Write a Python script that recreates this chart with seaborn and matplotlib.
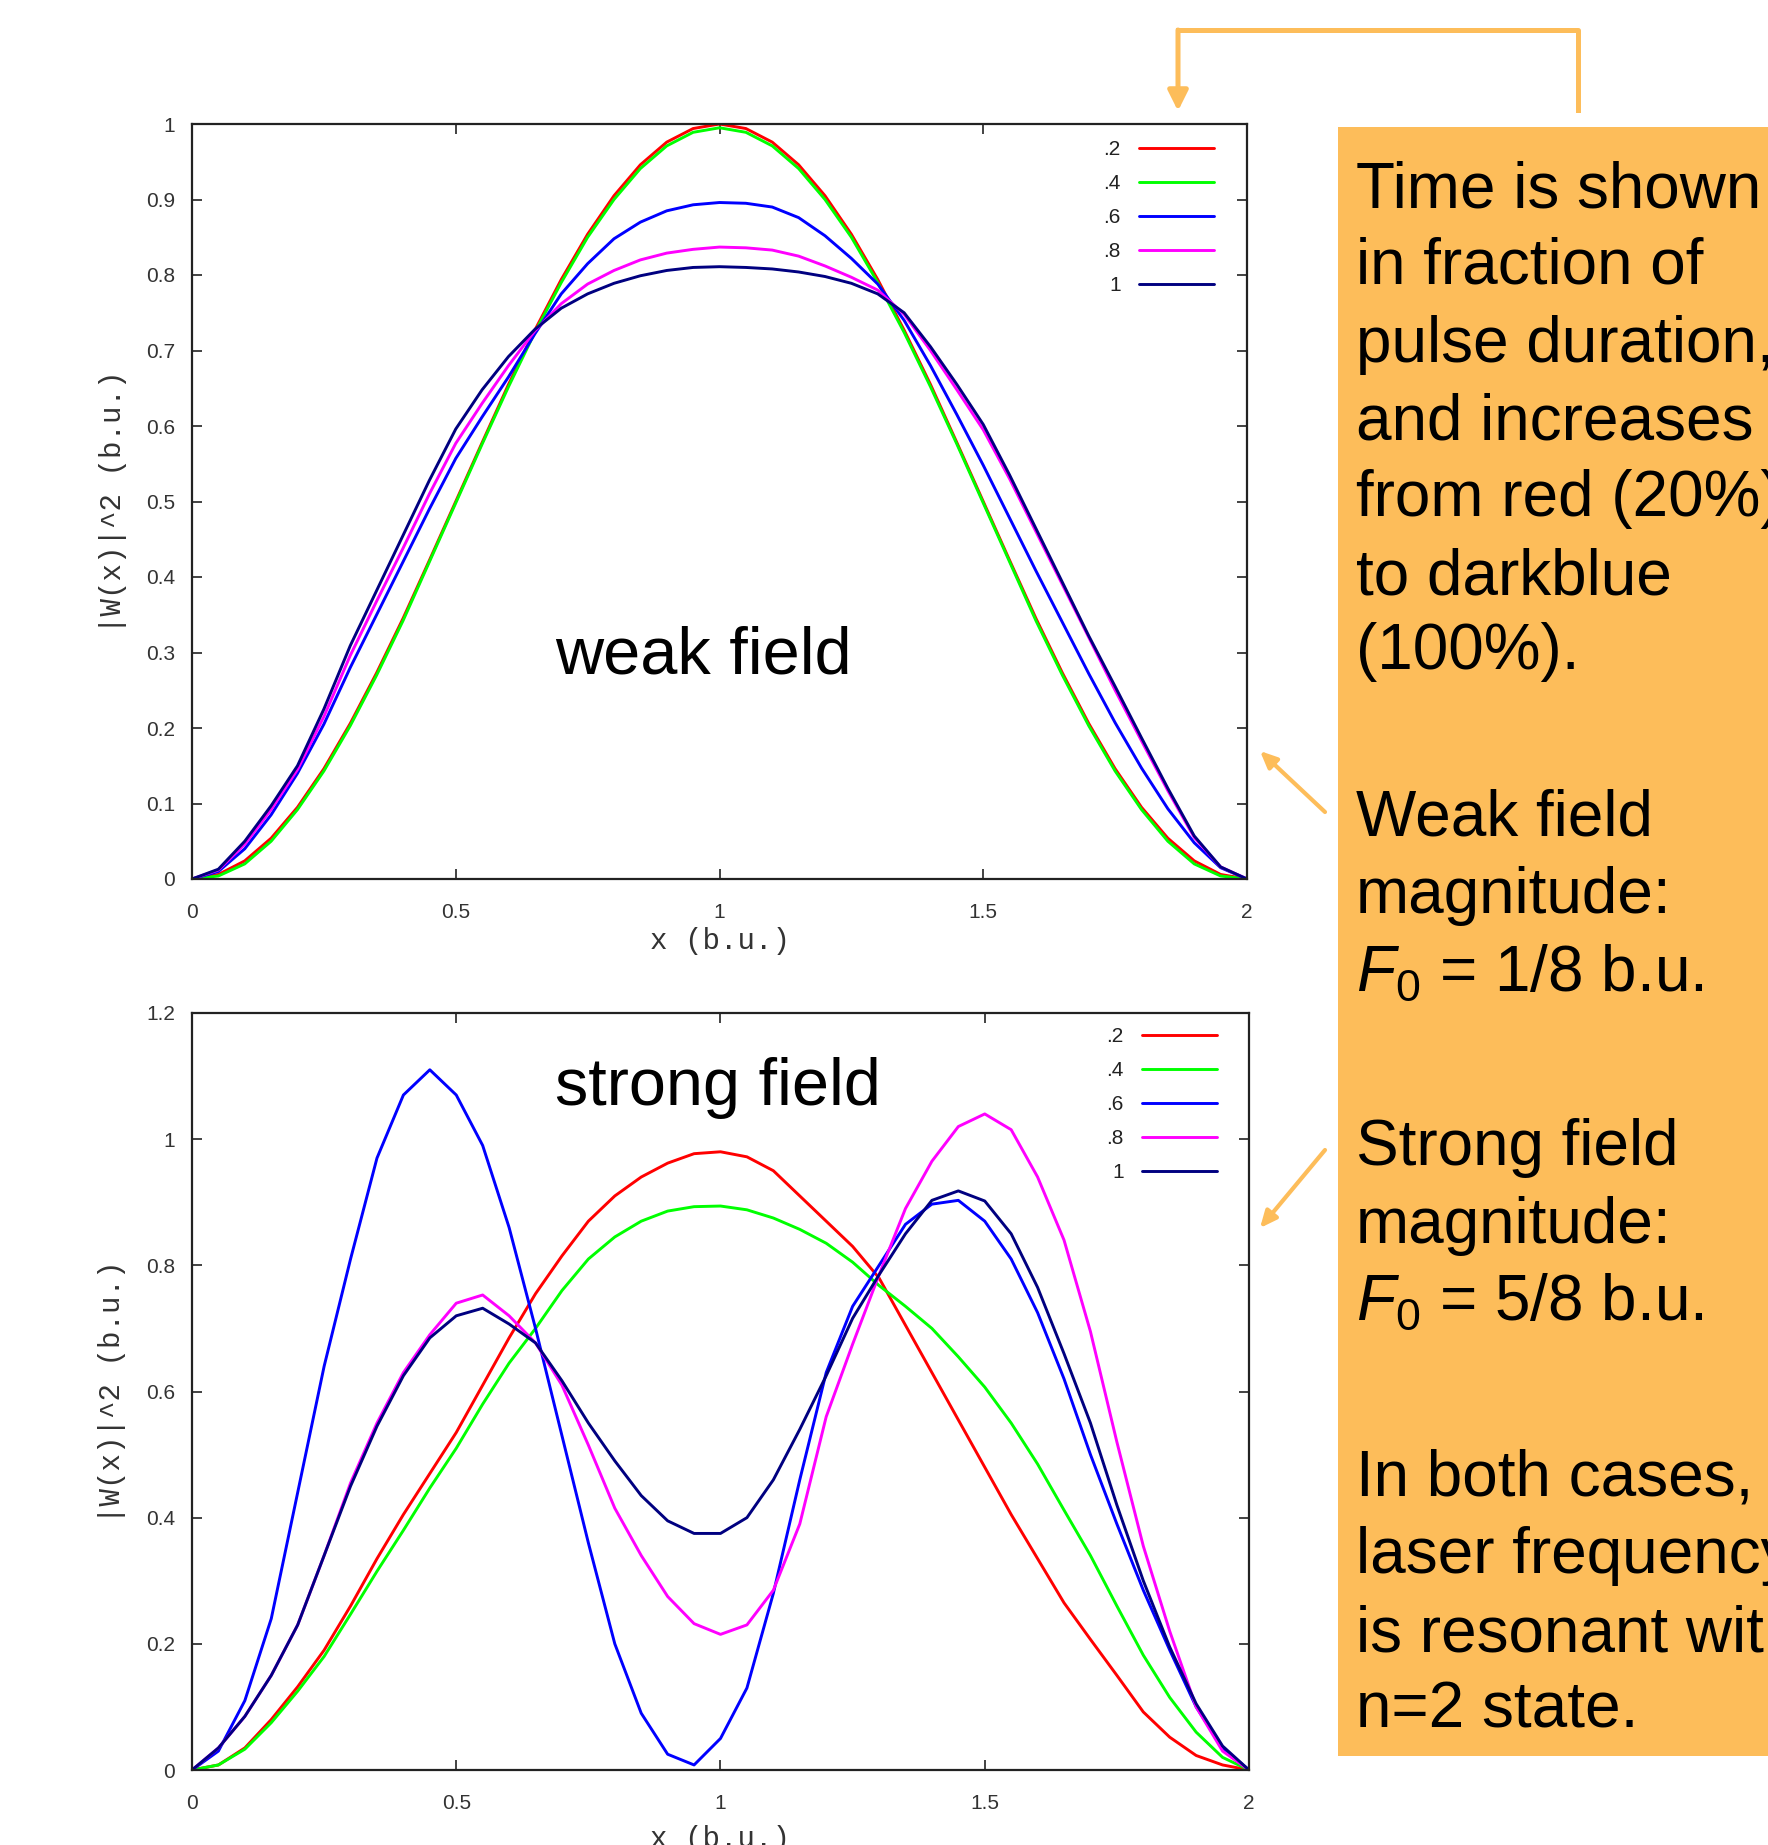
import numpy as np
import pandas as pd
import seaborn as sns
import matplotlib
matplotlib.use("Agg")
import matplotlib.pyplot as plt
from matplotlib.patches import Rectangle, FancyArrowPatch
from matplotlib.lines import Line2D
from matplotlib import font_manager

# ---------------- data ----------------
x = [0, .05, .1, .15, .2, .25, .3, .35, .4, .45, .5, .55, .6, .65, .7, .75, .8, .85, .9, .95, 1.0,
     1.05, 1.1, 1.15, 1.2, 1.25, 1.3, 1.35, 1.4, 1.45, 1.5, 1.55, 1.6, 1.65, 1.7, 1.75, 1.8, 1.85, 1.9, 1.95, 2.0]

time_labels = [".2", ".4", ".6", ".8", "1"]
line_colors = ["#ff0000", "#00ff00", "#0000ff", "#ff00ff", "#000080"]

# weak field (F0 = 1/8 b.u.)
weak_t02 = [0, .006, .024, .054, .095, .146, .206, .273, .345, .422, .5, .578, .655, .727, .794, .854, .905, .946, .976, .994, 1.0,
            .994, .976, .946, .905, .854, .794, .727, .655, .578, .5, .422, .345, .273, .206, .146, .095, .054, .024, .006, 0]
weak_t04 = [0, .004, .02, .05, .092, .143, .203, .27, .342, .42, .498, .576, .652, .724, .79, .85, .90, .941, .971, .989, .995,
            .989, .971, .941, .90, .85, .79, .724, .652, .576, .498, .42, .342, .27, .203, .143, .092, .05, .02, .004, 0]
weak_t06 = [0, .01, .04, .085, .14, .205, .28, .35, .42, .49, .557, .612, .665, .722, .775, .815, .848, .87, .885, .893, .896,
            .895, .89, .876, .852, .822, .788, .74, .68, .615, .548, .478, .408, .34, .272, .207, .147, .093, .048, .015, 0]
weak_t08 = [0, .012, .046, .092, .145, .215, .296, .368, .438, .51, .577, .63, .68, .726, .762, .788, .806, .82, .829, .834, .837,
            .836, .833, .825, .812, .797, .78, .748, .70, .648, .595, .53, .46, .39, .32, .25, .183, .117, .055, .016, 0]
weak_t10 = [0, .013, .05, .097, .15, .225, .309, .382, .455, .528, .596, .648, .692, .728, .756, .775, .789, .799, .806, .81, .811,
            .81, .808, .804, .798, .789, .775, .75, .705, .655, .602, .535, .464, .393, .322, .255, .187, .12, .057, .016, 0]

# strong field (F0 = 5/8 b.u.)
strong_t02 = [0, .008, .035, .08, .132, .19, .26, .335, .405, .47, .535, .61, .685, .755, .815, .87, .91, .94, .962, .977, .98,
              .972, .95, .91, .87, .83, .78, .705, .63, .555, .48, .405, .335, .265, .207, .15, .092, .052, .023, .008, 0]
strong_t04 = [0, .008, .033, .075, .125, .18, .247, .315, .38, .447, .51, .58, .645, .70, .76, .81, .845, .87, .886, .893, .894,
              .888, .875, .857, .835, .805, .768, .735, .70, .655, .607, .55, .485, .412, .34, .26, .182, .115, .06, .02, 0]
strong_t06 = [0, .03, .11, .24, .44, .64, .81, .97, 1.07, 1.11, 1.07, .99, .86, .70, .53, .36, .20, .09, .025, .008, .05,
              .13, .28, .46, .63, .735, .80, .865, .897, .903, .87, .81, .725, .62, .50, .39, .285, .19, .10, .035, 0]
strong_t08 = [0, .035, .085, .15, .23, .34, .455, .55, .63, .69, .74, .753, .72, .677, .61, .515, .415, .34, .275, .232, .215,
              .23, .285, .39, .56, .675, .785, .89, .965, 1.02, 1.04, 1.015, .94, .84, .695, .52, .355, .22, .10, .03, 0]
strong_t10 = [0, .035, .085, .15, .23, .34, .45, .545, .625, .685, .72, .732, .707, .677, .617, .55, .49, .435, .395, .375, .375,
              .40, .46, .54, .625, .716, .785, .85, .903, .918, .902, .85, .765, .66, .55, .42, .30, .195, .105, .038, 0]

x_ticks = [0, 0.5, 1, 1.5, 2]
x_ticklabels = ["0", "0.5", "1", "1.5", "2"]
weak_yticks = [0, .1, .2, .3, .4, .5, .6, .7, .8, .9, 1]
weak_yticklabels = ["0", "0.1", "0.2", "0.3", "0.4", "0.5", "0.6", "0.7", "0.8", "0.9", "1"]
strong_yticks = [0, .2, .4, .6, .8, 1, 1.2]
strong_yticklabels = ["0", "0.2", "0.4", "0.6", "0.8", "1", "1.2"]

box_lines_1 = ["Time is shown", "in fraction of", "pulse duration,", "and increases",
               "from red (20%)", "to darkblue", "(100%)."]
box_lines_2 = ["Weak field", "magnitude:", r"$\mathit{F}_{\mathrm{0}}$ = 1/8 b.u."]
box_lines_3 = ["Strong field", "magnitude:", r"$\mathit{F}_{\mathrm{0}}$ = 5/8 b.u."]
box_lines_4 = ["In both cases,", "laser frequency", "is resonant with", "n=2 state."]

# ---------------- style ----------------
sns.set_style("ticks")
plt.rcParams["font.family"] = ["Liberation Sans", "DejaVu Sans"]
plt.rcParams["text.color"] = "black"
plt.rcParams["mathtext.fontset"] = "custom"
plt.rcParams["mathtext.rm"] = "Liberation Sans"
plt.rcParams["mathtext.it"] = "Liberation Sans:italic"

installed = {f.name for f in font_manager.fontManager.ttflist}
tick_font = "Liberation Sans Narrow" if "Liberation Sans Narrow" in installed else "Liberation Sans"
mono_font = "Liberation Mono" if "Liberation Mono" in installed else "DejaVu Sans Mono"

ORANGE = "#FDBD5A"
W, H = 1768, 1845
fig = plt.figure(figsize=(W / 100, H / 100), dpi=100)


def F(px, py):
    return (px / W, 1 - py / H)


ax1 = fig.add_axes([192 / W, 1 - 879 / H, 1055 / W, 755 / H])
ax2 = fig.add_axes([192 / W, 1 - 1770 / H, 1057 / W, 757 / H])


def draw(ax, series, yticks, yticklabels, ylim, leg_anchor, xlabel_y):
    df = pd.concat([pd.DataFrame({"x": x, "y": s, "t": lab}) for lab, s in zip(time_labels, series)],
                   ignore_index=True)
    sns.lineplot(data=df, x="x", y="y", hue="t", hue_order=time_labels,
                 palette=dict(zip(time_labels, line_colors)), estimator=None, sort=False,
                 lw=2.1, ax=ax, legend=True)
    ax.set_xlim(0, 2)
    ax.set_ylim(*ylim)
    ax.set_xticks(x_ticks)
    ax.set_xticklabels(x_ticklabels, family=tick_font)
    ax.set_yticks(yticks)
    ax.set_yticklabels(yticklabels, family=tick_font)
    ax.tick_params(axis="both", direction="in", top=True, right=True, length=7, width=1.2,
                   labelsize=15, labelcolor="#333333", color="#222222")
    ax.tick_params(axis="x", pad=17)
    ax.tick_params(axis="y", pad=12)
    for sp in ax.spines.values():
        sp.set_linewidth(1.6)
        sp.set_color("#222222")
    ax.set_xlabel("x (b.u.)", family=mono_font, fontsize=21, color="#333333")
    ax.set_ylabel("|W(x)|^2 (b.u.)", family=mono_font, fontsize=21, color="#333333")
    ax.xaxis.set_label_coords(0.5, xlabel_y)
    ax.yaxis.set_label_coords(-0.062, 0.5)
    handles, labels = ax.get_legend_handles_labels()
    ax.legend(handles, labels, loc="upper right", bbox_to_anchor=leg_anchor, frameon=False,
              markerfirst=False, handlelength=3.6, handletextpad=0.9, labelspacing=0.72,
              prop={"family": tick_font, "size": 15}, borderaxespad=0, borderpad=0,
              labelcolor="#222222")


draw(ax1, [weak_t02, weak_t04, weak_t06, weak_t08, weak_t10], weak_yticks, weak_yticklabels,
     (0, 1), (0.969, 0.979), -0.064)
draw(ax2, [strong_t02, strong_t04, strong_t06, strong_t08, strong_t10], strong_yticks, strong_yticklabels,
     (0, 1.2), (0.970, 0.981), -0.072)

# in-plot titles
fig.text(*F(703, 673), "weak field", fontsize=48, ha="center", va="baseline", color="black")
fig.text(*F(718, 1105), "strong field", fontsize=48, ha="center", va="baseline", color="black")

# orange explanation box
fig.add_artist(Rectangle(F(1338, 1756), (W - 1338) / W + 0.02, (1756 - 127) / H,
                         transform=fig.transFigure, facecolor=ORANGE, edgecolor="none", zorder=0))

paragraphs = [(box_lines_1, [185, 261, 339, 416, 493, 571, 646]),
              (box_lines_2, [813, 890, 968]),
              (box_lines_3, [1142, 1220, 1297]),
              (box_lines_4, [1473, 1550, 1628, 1704])]
for lines, centers in paragraphs:
    for line, cy in zip(lines, centers):
        fig.text(*F(1356, cy + 23), line, fontsize=46, ha="left", va="baseline", zorder=2, color="black")

# bracket arrow at the top
fig.add_artist(Line2D([1578 / W, 1578 / W, 1178 / W], [1 - 110 / H, 1 - 30 / H, 1 - 30 / H],
                      transform=fig.transFigure, color=ORANGE, lw=3.6, solid_capstyle="projecting"))
fig.add_artist(FancyArrowPatch(F(1178, 30), F(1178, 111), transform=fig.transFigure,
                               arrowstyle="-|>,head_length=12,head_width=6", mutation_scale=1,
                               color=ORANGE, lw=3.6, shrinkA=0, shrinkB=0))

# pointer arrows
for tail, tip in [((1325, 812), (1260, 751)), ((1325, 1150), (1260, 1228))]:
    fig.add_artist(FancyArrowPatch(F(*tail), F(*tip), transform=fig.transFigure,
                                   arrowstyle="-|>,head_length=10,head_width=4.5", mutation_scale=1,
                                   color=ORANGE, lw=3.0, shrinkA=0, shrinkB=0))

fig.savefig("out.png", dpi=100)
